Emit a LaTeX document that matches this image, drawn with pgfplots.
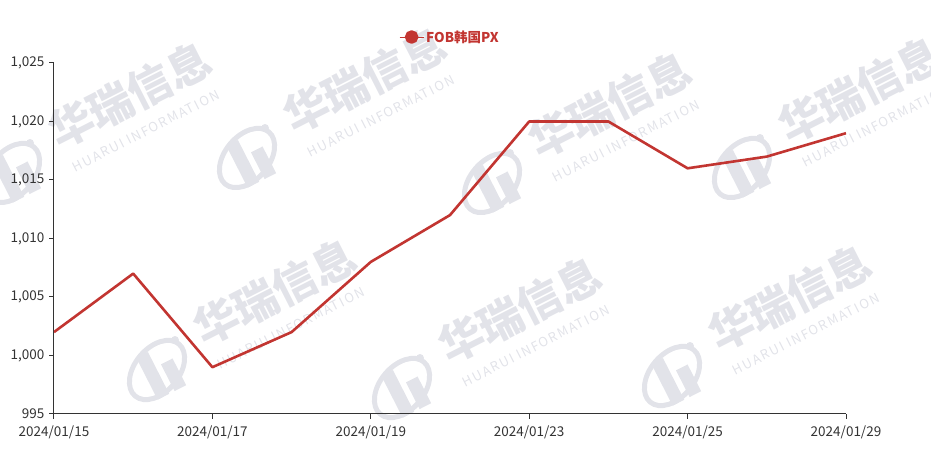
\documentclass[border=0pt]{standalone}
\usepackage{pgfplots}
\pgfplotsset{compat=1.18}
\usepackage{fontspec}
\setmainfont{Noto Sans CJK SC}
\definecolor{linered}{HTML}{C23531}
\definecolor{axisgray}{HTML}{333333}
\definecolor{wm}{RGB}{226,227,233}

% watermark: centre of the Chinese text at (#1,#2)
\newcommand\wmark[2]{%
  \begin{scope}[shift={(#1,#2)}]
    \node[wm, rotate=27, font=\fontsize{44}{46}\selectfont\bfseries] at (0,0) {华瑞信息};
    \node[wm, rotate=27, font=\fontsize{13}{15}\selectfont\addfontfeature{LetterSpace=12}] at (16,-36) {HUARUI INFORMATION};
    \draw[wm, line width=5pt, rotate around={-40:(-118,-78)}] (-118,-78) ellipse (22 and 34);
    \fill[wm, rotate around={27:(-118,-80)}] (-130,-105) rectangle (-117,-58);
    \fill[wm, rotate around={27:(-118,-80)}] (-111,-105) rectangle (-98,-75);
    \fill[wm] (-100,-48) circle (4);
  \end{scope}}

\begin{document}
\begin{tikzpicture}[x=1pt,y=1pt]
\useasboundingbox (-54,-54) rectangle (877,414);
\begin{scope}
\clip (-54,-54) rectangle (877,414);
\wmark{76}{319}
\wmark{311}{334}
\wmark{556}{309}
\wmark{806}{324}
\wmark{221}{122}
\wmark{466}{104}
\wmark{736}{116}
\end{scope}
\begin{axis}[
    at={(0,0)}, anchor=south west,
    scale only axis, width=792pt, height=351pt,
    xmin=0, xmax=10, ymin=995, ymax=1025,
    xtick={0,2,4,6,8,10},
    xticklabels={2024/01/15,2024/01/17,2024/01/19,2024/01/23,2024/01/25,2024/01/29},
    ytick={995,1000,1005,1010,1015,1020,1025},
    axis x line*=bottom, axis y line*=left,
    axis line style={axisgray, line width=1pt, -},
    tick style={axisgray, line width=1pt},
    tick align=outside, major tick length=5pt,
    ticklabel style={text=axisgray, font=\fontsize{13.5}{15}\selectfont},
    /pgf/number format/1000 sep={,},
    /pgf/number format/assume math mode=true,
    xticklabel style={yshift=-3pt},
    yticklabel style={xshift=-1pt},
    legend style={at={(0.5,1.074)}, anchor=center, draw=none, fill=none,
        font=\fontsize{13.5}{15}\selectfont\bfseries, text=linered},
    legend cell align=left,
]
\addplot[linered, line width=2.6pt, line join=round,
    legend image code/.code={
      \draw[linered, line width=1pt] (0pt,0pt) -- (24pt,0pt);
      \fill[linered] (12pt,0pt) circle (5.5pt);}]
  coordinates {
    (0,1002)
    (1,1007)
    (2,999)
    (3,1002)
    (4,1008)
    (5,1012)
    (6,1020)
    (7,1020)
    (8,1016)
    (9,1017)
    (10,1019)
  };
\addlegendentry{FOB韩国PX}
\end{axis}
\end{tikzpicture}
\end{document}
